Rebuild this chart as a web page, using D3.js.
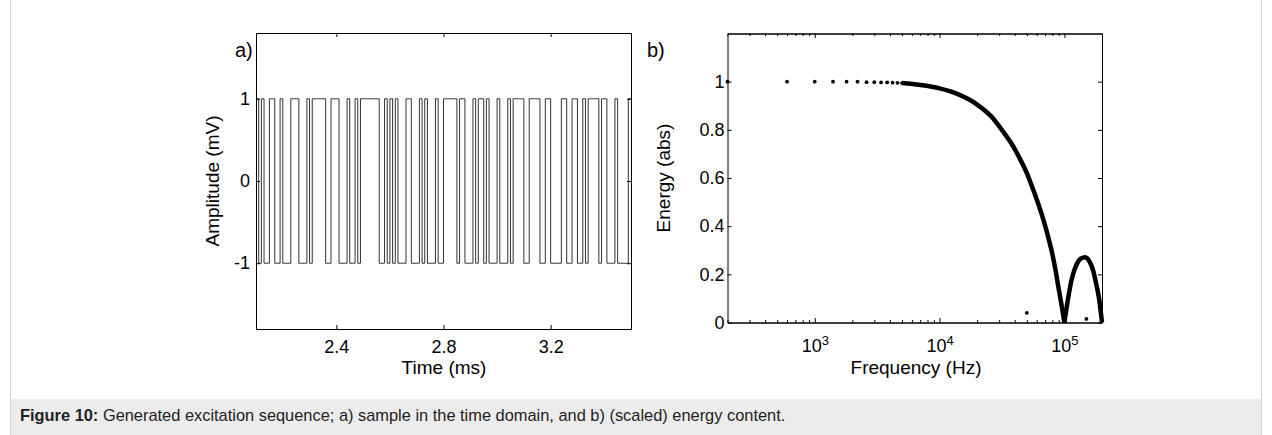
<!DOCTYPE html>
<html>
<head>
<meta charset="utf-8">
<script src="https://cdn.jsdelivr.net/npm/d3@7"></script>
<style>
  body { margin: 0; background: #fff; }
  svg { display: block; font-family: "Liberation Sans", Arial, sans-serif; }
  .axis path, .axis line { stroke: #000; }
  .axis text { font-size: 18px; fill: #000; font-family: "Liberation Sans", Arial, sans-serif; }
</style>
</head>
<body>
<svg width="1272" height="435"></svg>
<script>
// ---- panel a) data: bit sequence, 0.01 ms per bit, starting at 2.1 ms
var bitStart = 2.1,
    bitWidth = 0.01,
    bitCount = 140;
// indices of bits that sit at +1 (all others are -1)
var highBits = [0, 2, 5, 6, 9, 13, 14, 15, 19, 21, 22, 23, 24, 25, 28, 29, 30, 34, 37,
    39, 40, 41, 42, 43, 44, 45, 48, 50, 52, 56, 57, 61, 63, 67, 70, 71, 72, 73, 74,
    76, 77, 81, 83, 84, 86, 90, 94, 96, 97, 98, 99, 102, 103, 104, 105, 108, 109,
    114, 115, 118, 119, 122, 124, 125, 126, 127, 129, 130, 134, 139];
var timeTicks = [2.4, 2.8, 3.2];
var ampTicks = [-1, 0, 1];

// ---- panel b) data
var dotFreqs = [200, 600, 1000, 1400, 1800, 2200, 2600, 3000, 3400, 3800, 4200, 4600, 5000];
var dotEnergy = [1, 1, 1, 1, 1, 1, 0.998, 0.998, 0.997, 0.997, 0.996, 0.995, 0.994];
var mainLobeFreqs = [5000, 7000, 10000, 14000, 20000, 26000, 32000, 38000, 43000, 50000,
    55000, 62000, 68000, 75000, 80000, 85000, 90000, 95000, 100000];
var mainLobeEnergy = [0.994, 0.986, 0.972, 0.948, 0.905, 0.855, 0.795, 0.74, 0.69, 0.62,
    0.565, 0.49, 0.425, 0.345, 0.285, 0.215, 0.14, 0.07, 0];
var sideLobeFreqs = [100000, 107000, 115000, 125000, 135000, 147000, 160000, 170000, 178000, 190000, 200000];
var sideLobeEnergy = [0, 0.1, 0.185, 0.24, 0.265, 0.271, 0.25, 0.215, 0.17, 0.095, 0];
var strayFreqs = [50000, 150000];
var strayEnergy = [0.04, 0.015];
var energyTicks = [0, 0.2, 0.4, 0.6, 0.8, 1];
var freqTicks = [1e3, 1e4, 1e5];

var svg = d3.select("svg");

// figure frame + caption band
svg.append("rect")
    .attr("x", 10.5).attr("y", -4.5).attr("width", 1251).attr("height", 445)
    .attr("rx", 4)
    .attr("fill", "none").attr("stroke", "#d8d8d8");
svg.append("rect")
    .attr("x", 11).attr("y", 399).attr("width", 1250).attr("height", 40)
    .attr("fill", "#ececec");
var cap = svg.append("text")
    .attr("x", 20).attr("y", 421)
    .attr("font-size", "16.4px")
    .attr("fill", "#222");
cap.append("tspan").attr("font-weight", "bold").text("Figure 10:");
cap.append("tspan").text(" Generated excitation sequence; a) sample in the time domain, and b) (scaled) energy content.");

// ================= panel a =================
var ax = d3.scaleLinear().domain([2.1, 3.5]).range([256, 631]);
var ay = d3.scaleLinear().domain([-1.8, 1.8]).range([329, 33]);

var steps = d3.range(bitCount).map(function(k) {
    return { t: bitStart + k * bitWidth, v: highBits.indexOf(k) >= 0 ? 1 : -1 };
});
steps.push({ t: bitStart + bitCount * bitWidth, v: steps[steps.length - 1].v });

svg.append("path")
    .datum(steps)
    .attr("fill", "none")
    .attr("stroke", "#333")
    .attr("stroke-width", 1)
    .attr("d", d3.line()
        .curve(d3.curveStepAfter)
        .x(function(d) { return ax(d.t); })
        .y(function(d) { return ay(d.v); }));

svg.append("g").attr("class", "axis")
    .attr("transform", "translate(0,329)")
    .call(d3.axisBottom(ax).tickValues(timeTicks).tickSize(-4).tickSizeOuter(0).tickPadding(11)
        .tickFormat(d3.format(".1f")));
svg.append("g").attr("class", "axis")
    .attr("transform", "translate(0,33)")
    .call(d3.axisTop(ax).tickValues(timeTicks).tickSize(-4).tickSizeOuter(0).tickFormat(""));
svg.append("g").attr("class", "axis")
    .attr("transform", "translate(256,0)")
    .call(d3.axisLeft(ay).tickValues(ampTicks).tickSize(-4).tickSizeOuter(0).tickPadding(6)
        .tickFormat(String));
svg.append("g").attr("class", "axis")
    .attr("transform", "translate(631,0)")
    .call(d3.axisRight(ay).tickValues(ampTicks).tickSize(-4).tickSizeOuter(0).tickFormat(""));

svg.append("text")
    .attr("x", 444).attr("y", 374)
    .attr("text-anchor", "middle").attr("font-size", "19px")
    .text("Time (ms)");
svg.append("text")
    .attr("transform", "translate(219,181) rotate(-90)")
    .attr("text-anchor", "middle").attr("font-size", "19px")
    .text("Amplitude (mV)");
svg.append("text")
    .attr("x", 235).attr("y", 57).attr("font-size", "20px")
    .text("a)");

// ================= panel b =================
var bx = d3.scaleLog().domain([200, 2e5]).range([727.5, 1102]);
var by = d3.scaleLinear().domain([0, 1.2]).range([322.5, 33.5]);

var lobe = d3.line()
    .curve(d3.curveMonotoneX)
    .x(function(d) { return bx(d[0]); })
    .y(function(d) { return by(d[1]); });

[d3.zip(mainLobeFreqs, mainLobeEnergy), d3.zip(sideLobeFreqs, sideLobeEnergy)].forEach(function(pts) {
    svg.append("path")
        .datum(pts)
        .attr("fill", "none")
        .attr("stroke", "#000")
        .attr("stroke-width", 4.5)
        .attr("d", lobe);
});

svg.append("g").selectAll("circle")
    .data(d3.zip(dotFreqs.concat(strayFreqs), dotEnergy.concat(strayEnergy)))
    .enter().append("circle")
    .attr("cx", function(d) { return bx(d[0]); })
    .attr("cy", function(d) { return by(d[1]); })
    .attr("r", 1.9)
    .attr("fill", "#000");

var minorTicks = bx.ticks().filter(function(v) { return freqTicks.indexOf(v) < 0; });

svg.append("g").attr("class", "axis")
    .attr("transform", "translate(0,322.5)")
    .call(d3.axisBottom(bx).tickValues(minorTicks).tickSize(-2.5).tickSizeOuter(0).tickFormat(""));
var fAxis = svg.append("g").attr("class", "axis")
    .attr("transform", "translate(0,322.5)")
    .call(d3.axisBottom(bx).tickValues(freqTicks).tickSize(-4.5).tickSizeOuter(0).tickPadding(17)
        .tickFormat(""));
fAxis.selectAll(".tick text").each(function(d) {
    var t = d3.select(this);
    t.append("tspan").text("10");
    t.append("tspan").attr("dy", "-0.55em").attr("font-size", "13px")
        .text(Math.round(Math.log10(d)));
});
svg.append("g").attr("class", "axis")
    .attr("transform", "translate(0,33.5)")
    .call(d3.axisTop(bx).tickValues(minorTicks).tickSize(-2.5).tickSizeOuter(0).tickFormat(""));
svg.append("g").attr("class", "axis")
    .attr("transform", "translate(0,33.5)")
    .call(d3.axisTop(bx).tickValues(freqTicks).tickSize(-4.5).tickSizeOuter(0).tickFormat(""));
svg.append("g").attr("class", "axis")
    .attr("transform", "translate(727.5,0)")
    .call(d3.axisLeft(by).tickValues(energyTicks).tickSize(-4).tickSizeOuter(0).tickPadding(3)
        .tickFormat(function(d) { return d3.format("~g")(d); }));
svg.append("g").attr("class", "axis")
    .attr("transform", "translate(1102,0)")
    .call(d3.axisRight(by).tickValues(energyTicks).tickSize(-4).tickSizeOuter(0).tickFormat(""));

svg.append("text")
    .attr("x", 916).attr("y", 374)
    .attr("text-anchor", "middle").attr("font-size", "19px")
    .text("Frequency (Hz)");
svg.append("text")
    .attr("transform", "translate(670,178) rotate(-90)")
    .attr("text-anchor", "middle").attr("font-size", "19px")
    .text("Energy (abs)");
svg.append("text")
    .attr("x", 647).attr("y", 57).attr("font-size", "20px")
    .text("b)");
</script>
</body>
</html>
